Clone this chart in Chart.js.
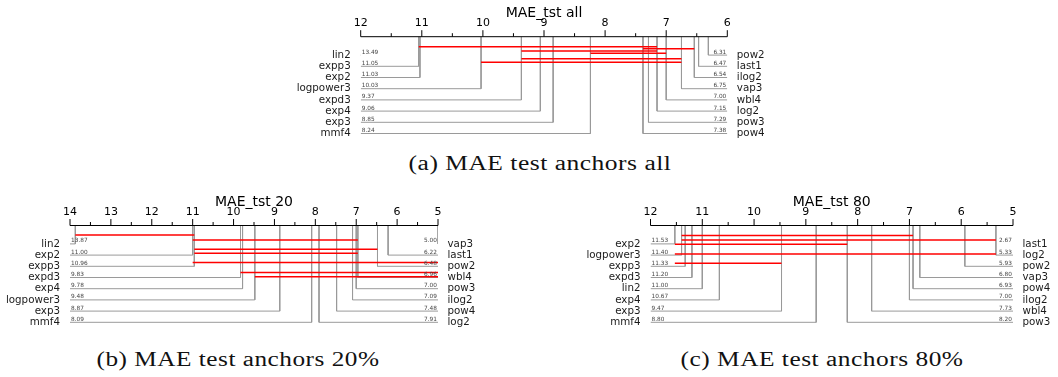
<!DOCTYPE html>
<html>
<head>
<meta charset="utf-8">
<script src="https://cdn.jsdelivr.net/npm/chart.js@4.4.0/dist/chart.umd.min.js"></script>
<style>
  html, body { margin: 0; padding: 0; background: #fff; }
  #fig { position: relative; width: 1058px; height: 377px; overflow: hidden; }
  .panel { position: absolute; }
  .caption { position: absolute; font-family: "Liberation Serif", serif; font-size: 20px; color: #111;
             white-space: nowrap; transform-origin: center center; }
</style>
</head>
<body>
<div id="fig">
  <div class="panel" style="left:280px;top:0px"><canvas id="cdA" width="520" height="145"></canvas></div>
  <div class="panel" style="left:0px;top:188px"><canvas id="cdB" width="520" height="145"></canvas></div>
  <div class="panel" style="left:530px;top:188px"><canvas id="cdC" width="528" height="145"></canvas></div>
  <div class="caption" data-cx="540" data-cy="163" data-w="263">(a) MAE test anchors all</div>
  <div class="caption" data-cx="238" data-cy="359" data-w="283">(b) MAE test anchors 20%</div>
  <div class="caption" data-cx="822" data-cy="359" data-w="283">(c) MAE test anchors 80%</div>
</div>
<script>
// --- dados (a) ---
const titleA = 'MAE_tst all';
const ticksA = [12, 11, 10, 9, 8, 7, 6];
const leftNamesA = ['lin2', 'expp3', 'exp2', 'logpower3', 'expd3', 'exp4', 'exp3', 'mmf4'];
const leftRanksA = [13.49, 11.05, 11.03, 10.03, 9.37, 9.06, 8.85, 8.24];
const rightNamesA = ['pow2', 'last1', 'ilog2', 'vap3', 'wbl4', 'log2', 'pow3', 'pow4'];
const rightRanksA = [6.31, 6.47, 6.54, 6.75, 7.00, 7.15, 7.29, 7.38];
const cliquesA = [[11.05, 7.15], [7.38, 6.54], [9.37, 7.15], [8.24, 7.00], [9.37, 6.75], [10.03, 6.75]];

// --- dados (b) ---
const titleB = 'MAE_tst 20';
const ticksB = [14, 13, 12, 11, 10, 9, 8, 7, 6, 5];
const leftNamesB = ['lin2', 'exp2', 'expp3', 'expd3', 'exp4', 'logpower3', 'exp3', 'mmf4'];
const leftRanksB = [13.87, 11.00, 10.96, 9.83, 9.78, 9.48, 8.87, 8.09];
const rightNamesB = ['vap3', 'last1', 'pow2', 'wbl4', 'pow3', 'ilog2', 'pow4', 'log2'];
const rightRanksB = [5.00, 6.22, 6.48, 6.96, 7.00, 7.09, 7.48, 7.91];
const cliquesB = [[13.87, 10.96], [11.00, 6.96], [10.96, 6.48], [10.96, 6.96], [11.00, 5.00], [9.83, 5.00], [9.48, 5.00]];

// --- dados (c) ---
const titleC = 'MAE_tst 80';
const ticksC = [12, 11, 10, 9, 8, 7, 6, 5];
const leftNamesC = ['exp2', 'logpower3', 'expp3', 'expd3', 'lin2', 'exp4', 'exp3', 'mmf4'];
const leftRanksC = [11.53, 11.40, 11.33, 11.20, 11.00, 10.67, 9.47, 8.80];
const rightNamesC = ['last1', 'log2', 'pow2', 'vap3', 'pow4', 'ilog2', 'wbl4', 'pow3'];
const rightRanksC = [2.67, 5.33, 5.93, 6.80, 6.93, 7.00, 7.73, 8.20];
const cliquesC = [[11.40, 6.93], [11.40, 5.33], [11.53, 8.20], [11.53, 5.33], [11.53, 9.47]];

// layout (px abaixo do eixo)
const ROW0 = 18.4, ROW_STEP = 11.2, AREA_H = 100;
const cliqueRowsA = [10, 12, 14.3, 16.6, 22, 25.5];
const cliqueRowsB = [9.5, 14.5, 23.8, 27.8, 37, 47, 51.2];
const cliqueRowsC = [10, 14.5, 18.8, 28.5, 37.8];

const GRAY = '#9a9a9a', RED = '#ff0000';
const FONT = '"DejaVu Sans", sans-serif';

function rowY(i) { return ROW0 + i * ROW_STEP; }

// eixo, ticks e textos desenhados com as escalas do Chart.js
const cdPlugin = {
    id: 'cdText',
    afterDatasetsDraw(chart, args, opts) {
        const ctx = chart.ctx, xs = chart.scales.x, ys = chart.scales.y, area = chart.chartArea;
        const y0 = area.top;
        ctx.save();
        ctx.strokeStyle = '#000';
        ctx.lineWidth = 1;
        ctx.beginPath();
        ctx.moveTo(area.left, y0);
        ctx.lineTo(area.right, y0);
        opts.ticks.forEach((t, i) => {
            const px = xs.getPixelForValue(t);
            ctx.moveTo(px, y0);
            ctx.lineTo(px, y0 - 6.5);
            if (i < opts.ticks.length - 1) {
                const pm = xs.getPixelForValue((t + opts.ticks[i + 1]) / 2);
                ctx.moveTo(pm, y0);
                ctx.lineTo(pm, y0 - 3.5);
            }
        });
        ctx.stroke();

        ctx.fillStyle = '#000';
        ctx.textAlign = 'center';
        ctx.textBaseline = 'middle';
        ctx.font = '11px ' + FONT;
        opts.ticks.forEach(t => ctx.fillText(String(t), xs.getPixelForValue(t), y0 - 13.7));

        ctx.textBaseline = 'alphabetic';
        ctx.font = '14px ' + FONT;
        ctx.fillText(opts.title, (area.left + area.right) / 2, y0 - 19.7);

        // nomes
        ctx.fillStyle = '#1a1a1a';
        ctx.font = '10.3px ' + FONT;
        ctx.textBaseline = 'middle';
        ctx.textAlign = 'right';
        opts.leftNames.forEach((n, i) => ctx.fillText(n, area.left - 10, ys.getPixelForValue(rowY(i))));
        ctx.textAlign = 'left';
        opts.rightNames.forEach((n, i) => ctx.fillText(n, area.right + 9.5, ys.getPixelForValue(rowY(i))));

        // valores
        ctx.fillStyle = '#444';
        ctx.font = '5.8px ' + FONT;
        ctx.textBaseline = 'alphabetic';
        ctx.textAlign = 'left';
        opts.leftRanks.forEach((v, i) => ctx.fillText(v.toFixed(2), area.left + 1, ys.getPixelForValue(rowY(i)) - 1.5));
        ctx.textAlign = 'right';
        opts.rightRanks.forEach((v, i) => ctx.fillText(v.toFixed(2), area.right - 1, ys.getPixelForValue(rowY(i)) - 1.5));
        ctx.restore();
    }
};

function cdChart(id, pad, title, ticks, leftNames, leftRanks, rightNames, rightRanks, cliques, cliqueRows) {
    const hi = Math.max(...ticks), lo = Math.min(...ticks);
    const datasets = [];
    leftRanks.forEach((r, i) => datasets.push({
        data: [{ x: r, y: 0 }, { x: r, y: rowY(i) }, { x: hi, y: rowY(i) }],
        borderColor: GRAY, borderWidth: 1, order: 1
    }));
    rightRanks.forEach((r, i) => datasets.push({
        data: [{ x: r, y: 0 }, { x: r, y: rowY(i) }, { x: lo, y: rowY(i) }],
        borderColor: GRAY, borderWidth: 1, order: 1
    }));
    cliques.forEach((c, i) => datasets.push({
        data: [{ x: c[0], y: cliqueRows[i] }, { x: c[1], y: cliqueRows[i] }],
        borderColor: RED, borderWidth: 1.6, order: 0
    }));
    const cv = document.getElementById(id);
    return new Chart(cv, {
        type: 'scatter',
        data: { datasets },
        options: {
            responsive: false,
            animation: false,
            showLine: true,
            elements: { point: { radius: 0, hoverRadius: 0 }, line: { tension: 0, borderCapStyle: 'butt' } },
            layout: { padding: { left: pad[0], right: cv.width - pad[1], top: pad[2], bottom: cv.height - pad[2] - AREA_H } },
            scales: {
                x: { type: 'linear', min: lo, max: hi, reverse: true, display: false },
                y: { type: 'linear', min: 0, max: AREA_H, reverse: true, display: false }
            },
            plugins: {
                legend: { display: false },
                tooltip: { enabled: false },
                cdText: { title, ticks, leftNames, leftRanks, rightNames, rightRanks }
            }
        },
        plugins: [cdPlugin]
    });
}

// pad = [esquerda da área, direita da área, topo do eixo] no canvas
cdChart('cdA', [80.7, 447.3, 36.7], titleA, ticksA, leftNamesA, leftRanksA, rightNamesA, rightRanksA, cliquesA, cliqueRowsA);
cdChart('cdB', [70, 438, 37.5], titleB, ticksB, leftNamesB, leftRanksB, rightNamesB, rightRanksB, cliquesB, cliqueRowsB);
cdChart('cdC', [120.5, 483, 37.5], titleC, ticksC, leftNamesC, leftRanksC, rightNamesC, rightRanksC, cliquesC, cliqueRowsC);

// legendas ajustadas à largura do original
document.querySelectorAll('.caption').forEach(el => {
    el.style.letterSpacing = '0.4px';
    const w = el.getBoundingClientRect().width;
    const s = el.dataset.w / w;
    el.style.left = el.dataset.cx + 'px';
    el.style.top = el.dataset.cy + 'px';
    el.style.transform = 'translate(-50%, -50%) scaleX(' + s.toFixed(3) + ')';
});
</script>
</body>
</html>
